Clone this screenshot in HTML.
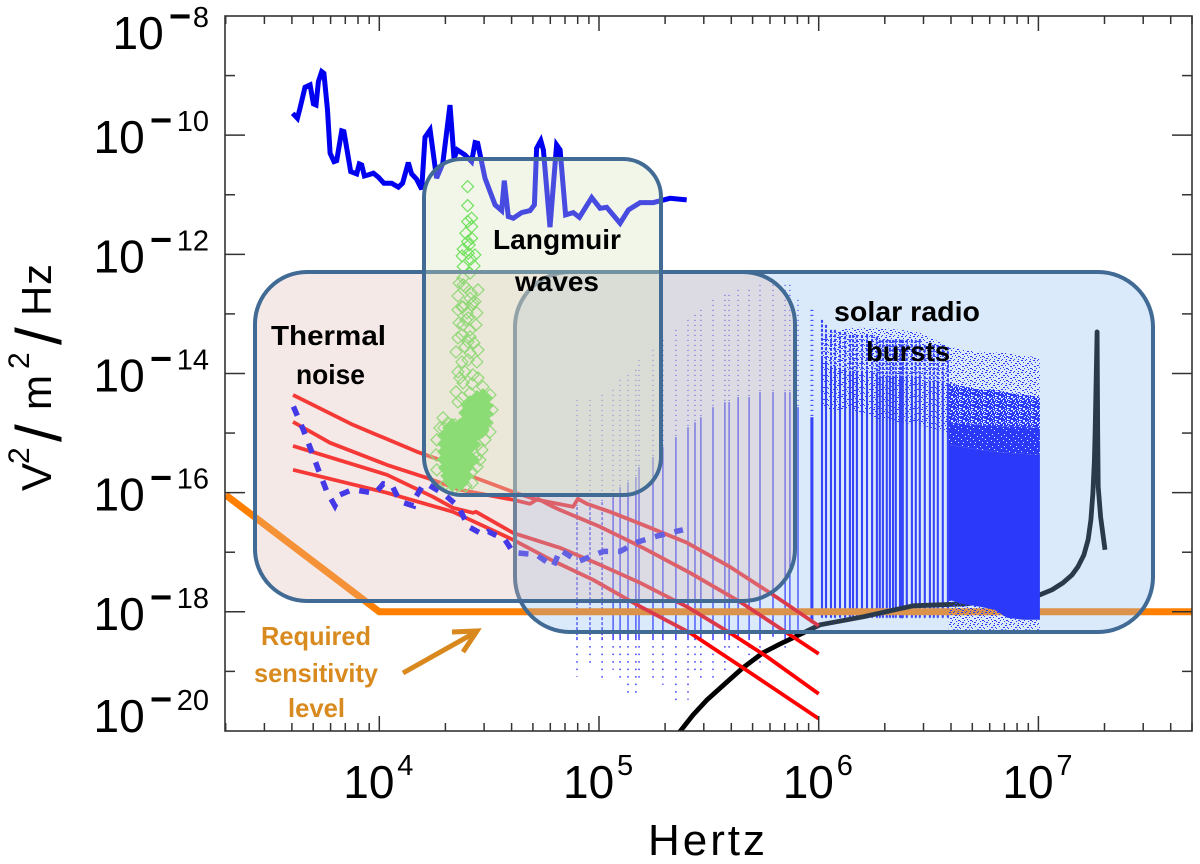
<!DOCTYPE html>
<html lang="en">
<head>
<meta charset="utf-8">
<title>Spectral power density chart</title>
<style>
html,body{margin:0;padding:0;background:#fff;}
svg{display:block;}
text{font-family:"Liberation Sans",sans-serif;}
.note{font-weight:bold;font-size:28px;fill:#000;}
.req{font-weight:bold;font-size:26px;fill:#d98a1f;}
</style>
</head>
<body>
<svg id="chart" xmlns="http://www.w3.org/2000/svg" width="1200" height="864" viewBox="0 0 1200 864">
  <defs>
    <clipPath id="plot-clip"><rect x="225" y="16" width="967" height="715"/></clipPath>
    <pattern id="speck-sparse" width="12" height="12" patternUnits="userSpaceOnUse">
      <path transform="translate(0,.5)" shape-rendering="crispEdges" stroke="#0000ff" stroke-width="1" fill="none" d="M1 0h2M5 0h1M9 1h2M3 2h1M7 3h2M11 3h1M0 4h1M5 5h2M9 5h1M2 6h2M7 7h1M10 8h2M4 8h1M0 9h1M8 9h1M2 10h2M6 11h1M10 11h1"/>
    </pattern>
    <pattern id="speck-mid" width="12" height="12" patternUnits="userSpaceOnUse">
      <path transform="translate(0,.5)" shape-rendering="crispEdges" stroke="#0000ff" stroke-width="1" fill="none" d="M0 0h3M5 0h4M10 0h2M1 1h2M5 1h2M8 1h3M0 2h5M7 2h2M10 2h1M2 3h3M6 3h4M0 4h2M4 4h3M8 4h2M11 4h1M1 5h5M8 5h4M0 6h3M4 6h2M7 6h4M3 7h5M9 7h2M0 8h4M6 8h3M10 8h2M1 9h3M5 9h2M8 9h4M0 10h2M3 10h5M9 10h2M2 11h4M7 11h3"/>
    </pattern>
    <pattern id="speck-dense" width="12" height="12" patternUnits="userSpaceOnUse">
      <path shape-rendering="crispEdges" fill="#0000ff" fill-rule="evenodd" d="M0 0h12v12h-12zM2 1h1v1h-1zM8 2h1v1h-1zM5 4h1v1h-1zM10 5h1v1h-1zM1 7h1v1h-1zM7 8h1v1h-1zM3 10h1v1h-1zM10 10h1v1h-1z"/>
    </pattern>
  </defs>

  <g id="data-layer" clip-path="url(#plot-clip)"></g>

  <rect x="515" y="272" width="638" height="360" rx="55" ry="55" fill="rgba(139,187,239,.31)" stroke="#416a94" stroke-width="4"/>
  <rect x="255" y="272" width="540" height="329" rx="52" ry="52" fill="rgba(222,184,178,.31)" stroke="#416a94" stroke-width="4"/>
  <rect x="424" y="159" width="237" height="336" rx="38" ry="38" fill="rgba(215,228,188,.33)" stroke="#416a94" stroke-width="4"/>

  <g id="axes-layer"></g>

  <g>
    <text class="note" x="493" y="249" textLength="128" lengthAdjust="spacingAndGlyphs">Langmuir</text>
    <text class="note" x="515" y="291" textLength="84" lengthAdjust="spacingAndGlyphs">waves</text>
    <text class="note" x="271" y="345" textLength="115" lengthAdjust="spacingAndGlyphs">Thermal</text>
    <text class="note" x="296" y="384" textLength="69" lengthAdjust="spacingAndGlyphs">noise</text>
    <text class="note" x="834" y="321" textLength="146" lengthAdjust="spacingAndGlyphs">solar radio</text>
    <text class="note" x="866" y="361" textLength="84" lengthAdjust="spacingAndGlyphs">bursts</text>
    <text class="req" x="261" y="645" textLength="110" lengthAdjust="spacingAndGlyphs">Required</text>
    <text class="req" x="254" y="682" textLength="124" lengthAdjust="spacingAndGlyphs">sensitivity</text>
    <text class="req" x="288" y="717" textLength="57" lengthAdjust="spacingAndGlyphs">level</text>
    <g stroke="#d8881c" stroke-width="5" fill="none">
      <path d="M403 673L476 632"/>
      <path d="M452 632L477 631L463 652"/>
    </g>
  </g>

  <text x="648" y="855" font-size="44" textLength="117" lengthAdjust="spacing" fill="#000">Hertz</text>
  <g transform="translate(51,490) rotate(-90)" fill="#000">
    <text font-size="42" x="-1" y="0">V<tspan font-size="30" x="26" y="-22">2</tspan><tspan font-size="64" x="48" y="10">/</tspan><tspan font-size="42" x="80" y="0">m</tspan><tspan font-size="30" x="121" y="-22">2</tspan><tspan font-size="64" x="145" y="10">/</tspan><tspan font-size="42" x="174" y="0">H</tspan><tspan font-size="42" x="205" y="0">z</tspan></text>
  </g>
</svg>

<script>
// Axis tick data
const xDecades = [4, 5, 6, 7];
const yDecades = [-8, -10, -12, -14, -16, -18, -20];
const minorMultipliers = [2, 3, 4, 5, 6, 7, 8, 9];

// Blue high-level curve (log10 Hz, log10 V^2/m^2/Hz)
const blueFreq = [3.606,3.627,3.639,3.662,3.685,3.700,3.712,3.723,3.738,3.748,3.764,3.776,3.794,3.806,3.829,3.839,3.870,3.897,3.909,3.920,3.932,3.950,3.973,3.996,4.021,4.056,4.087,4.106,4.132,4.147,4.170,4.193,4.208,4.231,4.261,4.289,4.322,4.340,4.355,4.390,4.420,4.436,4.448,4.481,4.527,4.557,4.569,4.587,4.610,4.648,4.686,4.706,4.716,4.735,4.747,4.777,4.807,4.823,4.848,4.883,4.911,4.967,5.005,5.035,5.096,5.134,5.187,5.247,5.323,5.399];
const bluePower = [-9.633,-9.717,-9.549,-9.196,-9.157,-9.476,-9.493,-9.101,-8.934,-8.962,-9.577,-10.304,-10.444,-10.427,-9.929,-9.940,-10.611,-10.651,-10.483,-10.500,-10.684,-10.667,-10.639,-10.706,-10.807,-10.807,-10.874,-10.807,-10.460,-10.651,-10.740,-10.908,-10.035,-9.912,-10.723,-10.472,-9.493,-10.388,-10.248,-10.332,-10.444,-10.125,-10.136,-10.723,-11.171,-11.266,-10.762,-11.366,-11.394,-11.299,-11.266,-11.171,-10.220,-10.091,-10.248,-11.545,-10.164,-10.248,-11.338,-11.299,-11.378,-11.048,-11.227,-11.210,-11.478,-11.255,-11.132,-11.132,-11.059,-11.087];

// Blue dashed curve
const dashedFreq = [3.609,3.654,3.692,3.723,3.761,3.798,3.821,3.867,3.905,3.981,4.018,4.056,4.094,4.155,4.163,4.200,4.223,4.292,4.360,4.405,4.474,4.496,4.572,4.610,4.716,4.792,4.823,4.906,5.020,5.096,5.177,5.268,5.382];
const dashedPower = [-14.554,-14.946,-15.309,-15.617,-15.981,-16.221,-16.037,-15.964,-15.964,-16.009,-15.852,-15.869,-16.148,-16.221,-16.092,-15.869,-15.869,-16.020,-16.232,-16.568,-16.708,-16.652,-16.792,-17.004,-17.043,-17.239,-16.959,-17.155,-16.987,-16.987,-16.826,-16.725,-16.624];

// Red thermal noise curves
const red1Freq = [3.607,3.880,4.172,4.276,4.426,4.609,4.718,4.882,4.904,4.945,5.050,5.200,5.401,5.596,5.792,6.000];
const red1Power = [-14.359,-14.862,-15.315,-15.450,-15.735,-15.987,-16.121,-16.238,-16.104,-16.188,-16.322,-16.540,-16.842,-17.245,-17.715,-18.235];
const red2Freq = [3.607,3.776,4.035,4.217,4.367,4.609,4.686,4.722,4.791,4.822,5.005,5.200,5.414,5.642,5.883,6.000];
const red2Power = [-14.812,-15.164,-15.534,-15.752,-15.953,-16.121,-16.188,-16.104,-16.238,-16.289,-16.574,-16.926,-17.346,-17.832,-18.419,-18.705];
const red3Freq = [3.607,4.035,4.244,4.335,4.426,4.440,4.609,4.822,5.005,5.187,5.401,5.610,5.765,6.000];
const red3Power = [-15.215,-15.701,-16.070,-16.255,-16.339,-16.322,-16.675,-16.926,-17.211,-17.513,-17.916,-18.386,-18.755,-19.376];
const red4Freq = [3.607,4.035,4.335,4.609,4.791,4.973,5.173,5.414,5.655,6.000];
const red4Power = [-15.617,-16.003,-16.322,-16.792,-17.145,-17.463,-17.883,-18.352,-18.940,-19.795];

// Black instrument-response curve
const blackFreq = [5.360,5.428,5.492,5.573,5.655,5.746,5.824,5.883,6.006,6.202,6.429,6.675,7.007,7.062,7.112,7.153,7.180,7.207,7.226,7.239,7.248,7.255,7.258,7.267,7.270,7.272,7.283,7.303];
const blackPower = [-20.05,-19.732,-19.477,-19.208,-18.940,-18.688,-18.540,-18.436,-18.218,-18.084,-17.899,-17.866,-17.715,-17.631,-17.513,-17.380,-17.245,-17.045,-16.792,-16.456,-16.003,-15.450,-14.997,-13.302,-15.000,-15.900,-16.406,-16.960];

// Required sensitivity level
const orangeFreq = [3.301, 4.000, 7.699];
const orangePower = [-16.04, -18.00, -18.00];

// Langmuir wave samples: open diamonds
const langmuirFreq = [4.402,4.402,4.420,4.402,4.420,4.394,4.420,4.402,4.382,4.409,4.435,4.405,4.377,4.416,4.382,4.413,4.364,4.382,4.420,4.390,4.413,4.435,4.375,4.420,4.381,4.426,4.399,4.444,4.363,4.381,4.413,4.376,4.413,4.390,4.413,4.376,4.444,4.390,4.426,4.449,4.381,4.472,4.413,4.358,4.290,4.312,4.344,4.490,4.481,4.445,4.422,4.294,4.467,4.458,4.394,4.431,4.358,4.358,4.404,4.440,4.358,4.404,4.449,4.349,4.404,4.367,4.422,4.349,4.376,4.504,4.513,4.504,4.276,4.262,4.258,4.262,4.467,4.449,4.440,4.422,4.394,4.303,4.344,4.381,4.431,4.358,4.449];
const langmuirPower = [-10.864,-11.183,-11.394,-11.451,-11.535,-11.646,-11.730,-11.787,-11.914,-11.842,-12.010,-11.982,-12.027,-12.082,-12.206,-12.317,-12.485,-12.513,-12.653,-12.542,-12.737,-12.794,-12.878,-12.849,-12.883,-12.815,-12.983,-12.983,-13.151,-13.185,-13.268,-13.352,-13.386,-13.554,-13.654,-13.805,-13.805,-13.973,-14.023,-14.074,-14.158,-14.225,-14.326,-14.477,-14.745,-14.829,-14.862,-14.829,-15.114,-15.567,-15.836,-14.913,-15.282,-15.450,-13.101,-13.487,-13.973,-12.933,-13.067,-13.185,-13.403,-13.470,-13.604,-13.638,-13.772,-14.074,-14.174,-14.309,-14.409,-14.359,-14.611,-14.980,-14.913,-15.114,-15.366,-15.617,-14.980,-15.198,-15.416,-15.651,-15.886,-15.852,-15.919,-12.396,-12.194,-12.698,-12.597];
// Langmuir wave samples: dense core
const langmuirCoreFreq = [4.472,4.445,4.413,4.476,4.440,4.404,4.476,4.440,4.404,4.472,4.435,4.458,4.422,4.331,4.367,4.308,4.344,4.381,4.417,4.308,4.344,4.381,4.417,4.308,4.344,4.381,4.308,4.344,4.381,4.413,4.312,4.349,4.385,4.322,4.358,4.385,4.335,4.367];
const langmuirCorePower = [-14.409,-14.443,-14.527,-14.544,-14.577,-14.661,-14.678,-14.711,-14.795,-14.812,-14.846,-14.946,-14.963,-14.913,-14.913,-15.047,-15.047,-15.047,-15.047,-15.181,-15.181,-15.181,-15.181,-15.315,-15.315,-15.315,-15.450,-15.450,-15.450,-15.450,-15.584,-15.584,-15.584,-15.718,-15.718,-15.718,-15.819,-15.819];

// Solar burst receiver channels
const burstChannelFreq = [4.900,4.959,5.014,5.064,5.096,5.132,5.168,5.182,5.246,5.291,5.350,5.405,5.437,5.464,5.519,5.573,5.592,5.633,5.683,5.733,5.792,5.847,5.869,5.906,5.965,5.969,5.973,6.015,6.033,6.056,6.074,6.097,6.120,6.142,6.156,6.174,6.197,6.220,6.243,6.265,6.278,6.292,6.310,6.324,6.338,6.351,6.370,6.374,6.379,6.383,6.401,6.424,6.442,6.460,6.483,6.506,6.524,6.542,6.565,6.588];
const burstChannelTop = [-14.443,-14.443,-14.359,-14.275,-14.107,-14.023,-13.940,-13.772,-13.604,-13.436,-13.268,-13.101,-13.017,-12.933,-12.765,-12.681,-12.681,-12.597,-12.597,-12.513,-12.513,-12.513,-12.513,-12.765,-12.933,-12.933,-12.933,-13.101,-13.185,-13.268,-13.268,-13.302,-13.302,-13.352,-13.352,-13.352,-13.352,-13.352,-13.352,-13.386,-13.436,-13.436,-13.436,-13.436,-13.436,-13.436,-13.436,-13.436,-13.436,-13.436,-13.436,-13.436,-13.436,-13.436,-13.520,-13.520,-13.520,-13.520,-13.520,-13.554];
const burstChannelBottom = [-19.091,-18.889,-19.141,-18.973,-19.191,-19.426,-19.359,-19.141,-19.191,-19.225,-19.560,-19.477,-19.007,-19.141,-19.141,-19.023,-18.638,-18.688,-18.805,-18.856,-18.419,-18.671,-18.419,-18.302,-18.185,-18.185,-18.185,-18.100,-18.100,-18.100,-18.100,-18.100,-18.100,-18.100,-18.100,-18.100,-18.100,-18.100,-18.100,-18.100,-18.100,-18.100,-18.100,-18.100,-18.100,-18.100,-18.100,-18.100,-18.100,-18.100,-18.100,-18.100,-18.100,-18.100,-18.100,-18.100,-18.100,-18.100,-18.100,-18.100];

// Solar burst sparse fringe envelope
const fringeFreq = [6.020,6.142,6.278,6.460,6.592,6.734,6.857,7.007];
const fringeTop = [-13.352,-13.235,-13.235,-13.302,-13.554,-13.638,-13.654,-13.738];
const fringeBase = [-14.611,-14.611,-14.779,-14.862,-14.997,-15.114,-15.114,-15.114];

// Solar burst dense block envelope
const blockFreq = [6.592,6.650,6.734,6.800,6.857,6.930,7.007];
const blockMidTop = [-14.158,-14.208,-14.275,-14.275,-14.326,-14.359,-14.393];
const blockDenseTop = [-14.829,-14.846,-14.862,-14.879,-14.896,-14.896,-14.913];
const blockSolidTop = [-15.198,-15.232,-15.282,-15.315,-15.332,-15.349,-15.366];
const blockSolidBottom = [-17.799,-17.866,-17.916,-17.966,-18.101,-18.134,-18.134];
const blockSpeckBottom = [-18.302,-18.302,-18.302,-18.302,-18.302,-18.302,-18.302];

const NS = 'http://www.w3.org/2000/svg';
function xScale(logF) { return 379.3 + 219.7 * (logF - 4); }
function yScale(logP) { return 16 + 59.58 * (-8 - logP); }
function make(tag, parent) {
  const el = document.createElementNS(NS, tag);
  parent.appendChild(el);
  return el;
}
function linePath(fs, ps) {
  return fs.map((f, i) => (i ? 'L' : 'M') + xScale(f).toFixed(1) + ' ' + yScale(ps[i]).toFixed(1)).join('');
}
function bandPath(fs, upper, lower) {
  let d = linePath(fs, upper);
  for (let i = fs.length - 1; i >= 0; i--) {
    d += 'L' + xScale(fs[i]).toFixed(1) + ' ' + yScale(lower[i]).toFixed(1);
  }
  return d + 'Z';
}
function drawCurve(parent, fs, ps, color, width, dash, join) {
  const p = make('path', parent);
  p.setAttribute('d', linePath(fs, ps));
  p.setAttribute('fill', 'none');
  p.setAttribute('stroke', color);
  p.setAttribute('stroke-width', width);
  p.setAttribute('stroke-linejoin', join || 'round');
  p.setAttribute('stroke-miterlimit', '3');
  if (dash) p.setAttribute('stroke-dasharray', dash);
  return p;
}
function drawBand(parent, fs, upper, lower, fill) {
  const p = make('path', parent);
  p.setAttribute('d', bandPath(fs, upper, lower));
  p.setAttribute('fill', fill);
  return p;
}
function drawChannelSegment(parent, f, p0, p1, dash, width) {
  const l = make('line', parent);
  l.setAttribute('x1', xScale(f).toFixed(1));
  l.setAttribute('x2', xScale(f).toFixed(1));
  l.setAttribute('y1', yScale(p0).toFixed(1));
  l.setAttribute('y2', yScale(p1).toFixed(1));
  l.setAttribute('stroke', '#1010ff');
  l.setAttribute('stroke-width', width);
  if (dash) l.setAttribute('stroke-dasharray', dash);
  return l;
}
function drawDiamond(parent, f, p, r, fill, stroke) {
  const cx = xScale(f), cy = yScale(p);
  const d = make('path', parent);
  d.setAttribute('d', 'M' + (cx - r) + ' ' + cy + 'L' + cx + ' ' + (cy - r) + 'L' + (cx + r) + ' ' + cy + 'L' + cx + ' ' + (cy + r) + 'Z');
  d.setAttribute('fill', fill);
  d.setAttribute('stroke', stroke);
  d.setAttribute('stroke-width', '1.2');
  return d;
}

const dataLayer = document.getElementById('data-layer');

const blueCurve = drawCurve(dataLayer, blueFreq, bluePower, '#0000f0', 5, null, 'miter');



const channelGroup = make('g', dataLayer);


burstChannelFreq.forEach((f, i) => {
  const top = burstChannelTop[i], bottom = burstChannelBottom[i];
  const dense = f > 6;
  const width = dense ? 2.1 : 1.25;
  const solidTop = top - (dense ? 0.6 : 1.8);
  const solidBottom = Math.max(bottom, -18.45);
  const sparseAll = f < 5.02;
  const upper = drawChannelSegment(channelGroup, f, top, solidTop, dense ? '3 1.5' : '1 4', width);
  
  
  const mid = drawChannelSegment(channelGroup, f, solidTop, solidBottom, sparseAll ? '3 2' : null, width);
  
  
  const lower = drawChannelSegment(channelGroup, f, solidBottom, bottom, '1.5 6', width);
  
  
});

const orangeLine = drawCurve(dataLayer, orangeFreq, orangePower, '#ff8000', 7, null, 'miter');



const blackLine = drawCurve(dataLayer, blackFreq, blackPower, '#000000', 4.8);



const fringe = drawBand(dataLayer, fringeFreq, fringeTop, fringeBase, 'url(#speck-sparse)');


const midBand = drawBand(dataLayer, blockFreq, blockMidTop, blockDenseTop, 'url(#speck-mid)');


const denseBand = drawBand(dataLayer, blockFreq, blockDenseTop, blockSolidTop, 'url(#speck-dense)');


const solidBand = drawBand(dataLayer, blockFreq, blockSolidTop, blockSolidBottom, '#0000ff');


const speckBand = drawBand(dataLayer, blockFreq, blockSolidBottom, blockSpeckBottom, 'url(#speck-sparse)');



const red1 = drawCurve(dataLayer, red1Freq, red1Power, '#ff0000', 3.8);


const red2 = drawCurve(dataLayer, red2Freq, red2Power, '#ff0000', 3.8);


const red3 = drawCurve(dataLayer, red3Freq, red3Power, '#ff0000', 3.8);


const red4 = drawCurve(dataLayer, red4Freq, red4Power, '#ff0000', 3.8);



const dashedLine = drawCurve(dataLayer, dashedFreq, dashedPower, '#0000ff', 5.5, '10 10', 'miter');



const greenGroup = make('g', dataLayer);


langmuirFreq.forEach((f, i) => {
  const d = drawDiamond(greenGroup, f, langmuirPower[i], 6, 'none', '#3fe030');
  
  
});
langmuirCoreFreq.forEach((f, i) => {
  const d = drawDiamond(greenGroup, f, langmuirCorePower[i], 9, '#34e62a', '#34e62a');
  
  
});

// Axes
const axes = document.getElementById('axes-layer');
const frame = make('rect', axes);


frame.setAttribute('x', 225);
frame.setAttribute('y', 16);
frame.setAttribute('width', 967);
frame.setAttribute('height', 715);
frame.setAttribute('fill', 'none');
frame.setAttribute('stroke', '#333');
frame.setAttribute('stroke-width', '1.6');

function tick(x1, y1, x2, y2) {
  const l = make('line', axes);
  l.setAttribute('x1', x1);
  l.setAttribute('y1', y1);
  l.setAttribute('x2', x2);
  l.setAttribute('y2', y2);
  l.setAttribute('stroke', '#333');
  l.setAttribute('stroke-width', '1.5');
  return l;
}
[3, 4, 5, 6, 7].forEach(dec => {
  minorMultipliers.forEach(m => {
    const lf = dec + Math.log10(m);
    if (lf < 3.301 || lf > 7.699) return;
    const px = xScale(lf).toFixed(1);
    const b = tick(px, 731, px, 723);
    
    
    const t = tick(px, 16, px, 24);
    
    
  });
});
xDecades.forEach(dec => {
  const px = xScale(dec);
  const b = tick(px, 731, px, 716);
  
  
  const t = tick(px, 16, px, 31);
  
  
  const label = make('text', axes);
  
  
  label.setAttribute('x', px - 36);
  label.setAttribute('y', 798);
  label.setAttribute('font-size', '46');
  label.setAttribute('fill', '#000');
  label.textContent = '10';
  const sup = make('text', axes);
  
  
  sup.setAttribute('x', px + 18);
  sup.setAttribute('y', 775);
  sup.setAttribute('font-size', '29');
  sup.setAttribute('fill', '#000');
  sup.textContent = String(dec);
});
yDecades.forEach((dec, i) => {
  const py = yScale(dec);
  if (i > 0 && i < yDecades.length - 1) {
    const l = tick(225, py, 245, py);
    
    
    const r = tick(1192, py, 1172, py);
    
    
  }
  if (i < yDecades.length - 1) {
    const pm = yScale(dec - 1);
    const lm = tick(225, pm, 235, pm);
    
    
    const rm = tick(1192, pm, 1182, pm);
    
    
  }
  const single = String(-dec).length === 1;
  const first = i === 0, last = i === yDecades.length - 1;
  const base = py + (first ? 33 : (last ? 1 : 18));
  const shift = single ? 19 : 0;
  const label = make('text', axes);
  
  
  label.setAttribute('x', 93.5 + shift);
  label.setAttribute('y', base);
  label.setAttribute('font-size', '46');
  label.setAttribute('fill', '#000');
  label.textContent = '10';
  const minus = make('text', axes);
  
  
  minus.setAttribute('x', 150 + shift);
  minus.setAttribute('y', base - 20);
  minus.setAttribute('font-size', '38');
  minus.setAttribute('font-weight', 'bold');
  minus.setAttribute('fill', '#000');
  minus.textContent = '\u2212';
  const sup = make('text', axes);
  
  
  sup.setAttribute('x', 209);
  sup.setAttribute('y', base - 22);
  sup.setAttribute('font-size', '29');
  sup.setAttribute('text-anchor', 'end');
  sup.setAttribute('fill', '#000');
  sup.textContent = String(-dec);
});
</script>
</body>
</html>
